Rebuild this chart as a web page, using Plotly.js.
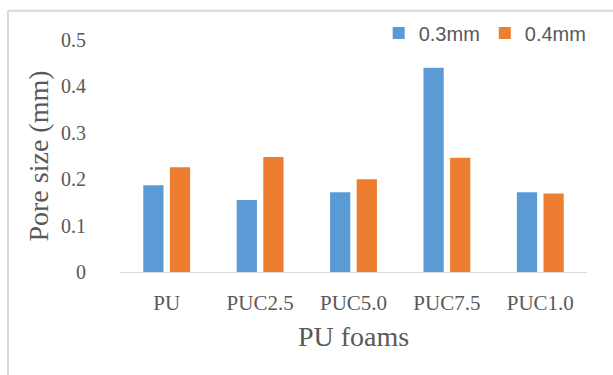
<!DOCTYPE html>
<html>
<head>
<meta charset="utf-8">
<script src="https://cdn.plot.ly/plotly-3.0.1.min.js"></script>
<style>
  html, body { margin: 0; padding: 0; background: #ffffff; }
  #chart { width: 613px; height: 375px; }
</style>
</head>
<body>
<div id="chart"></div>
<script>
const categories = ["PU", "PUC2.5", "PUC5.0", "PUC7.5", "PUC1.0"];
const seriesNames = ["0.3mm", "0.4mm"];
const values03 = [0.187, 0.155, 0.172, 0.440, 0.172];
const values04 = [0.226, 0.248, 0.200, 0.246, 0.169];
const yTickValues = [0, 0.1, 0.2, 0.3, 0.4, 0.5];
const yTickLabels = ["0", "0.1", "0.2", "0.3", "0.4", "0.5"];

const serif = "'Liberation Serif', 'Times New Roman', serif";
const sans = "'Liberation Sans', Arial, sans-serif";
const textGray = "#595959";

const traces = [
  { type: "bar", name: seriesNames[0], x: categories, y: values03,
    marker: { color: "#5B9BD5" } },
  { type: "bar", name: seriesNames[1], x: categories, y: values04,
    marker: { color: "#ED7D31" } }
];

const layout = {
  width: 613, height: 375,
  margin: { l: 120, r: 26, t: 40, b: 103, autoexpand: false },
  paper_bgcolor: "#ffffff", plot_bgcolor: "#ffffff",
  barmode: "group", bargap: 0.43, bargroupgap: 0.24,
  showlegend: true,
  legend: {
    orientation: "h", x: 1.01, xanchor: "right", y: 1.03, yanchor: "middle",
    font: { family: sans, size: 20, color: textGray },
    bgcolor: "rgba(0,0,0,0)"
  },
  xaxis: {
    showgrid: false, zeroline: false, showline: true,
    linecolor: "#D9D9D9", linewidth: 1, ticks: "",
    ticklabelstandoff: 12,
    tickfont: { family: serif, size: 21, color: textGray },
    title: { text: "PU foams", font: { family: serif, size: 28, color: textGray }, standoff: 12 }
  },
  yaxis: {
    range: [0, 0.5], showgrid: false, zeroline: false, showline: false,
    tickmode: "array", tickvals: yTickValues, ticktext: yTickLabels,
    ticks: "", ticklabelstandoff: 33,
    tickfont: { family: serif, size: 20, color: textGray },
    title: { text: "Pore size (mm)", font: { family: serif, size: 28, color: textGray }, standoff: 4 }
  },
  shapes: [
    { type: "line", xref: "paper", yref: "paper", x0: -0.2398, x1: 1.06, y0: 1.1263, y1: 1.1263,
      line: { color: "#D9D9D9", width: 2 } },
    { type: "line", xref: "paper", yref: "paper", x0: -0.2398, x1: -0.2398, y0: 1.1263, y1: -0.45,
      line: { color: "#D9D9D9", width: 2 } }
  ]
};

Plotly.newPlot("chart", traces, layout, { displayModeBar: false, staticPlot: true });
</script>
</body>
</html>
